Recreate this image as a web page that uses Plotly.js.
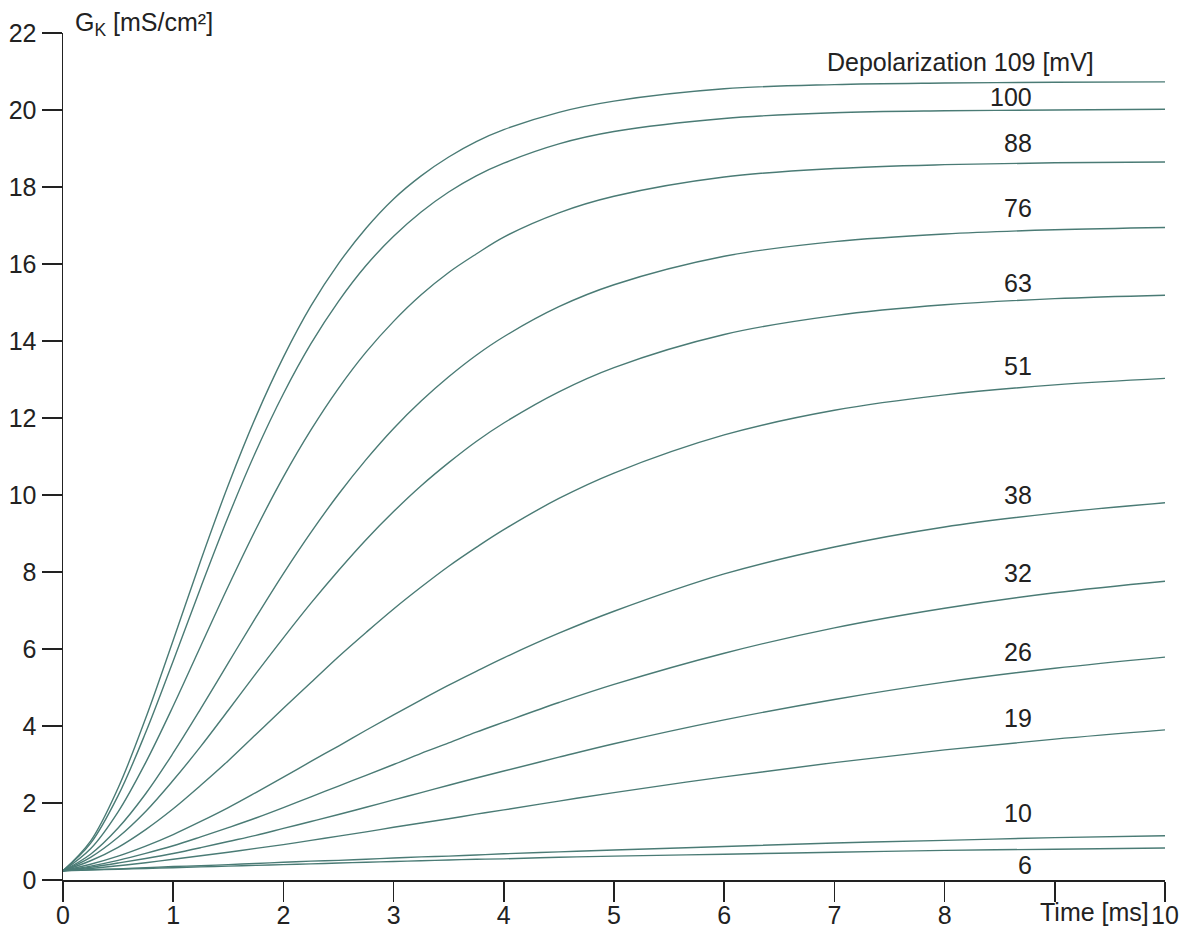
<!DOCTYPE html>
<html>
<head>
<meta charset="utf-8">
<script src="https://cdn.plot.ly/plotly-3.0.1.min.js"></script>
<style>
  html, body { margin: 0; padding: 0; background: #ffffff; }
  #chart { width: 1192px; height: 932px; }
</style>
</head>
<body>
<div id="chart"></div>
<script>
// Time after the voltage step, ms
const timeMs = [0, 0.25, 0.5, 0.75, 1, 1.25, 1.5, 1.75, 2, 2.25, 2.5, 2.75, 3, 3.25, 3.5, 3.75, 4, 4.5, 5, 6, 7, 8, 9, 10];

// Depolarization of each step, mV
const depolarization = [109, 100, 88, 76, 63, 51, 38, 32, 26, 19, 10, 6];

// Potassium conductance G_K (mS/cm²) for each depolarization
const gK109 = [0.24, 1.01, 2.39, 4.20, 6.23, 8.30, 10.26, 12.03, 13.58, 14.91, 16.01, 16.93, 17.69, 18.29, 18.78, 19.18, 19.49, 19.94, 20.23, 20.55, 20.66, 20.70, 20.72, 20.73];
const gK100 = [0.24, 0.95, 2.19, 3.83, 5.69, 7.60, 9.44, 11.13, 12.63, 13.93, 15.03, 15.96, 16.72, 17.35, 17.87, 18.29, 18.62, 19.12, 19.44, 19.78, 19.93, 19.98, 20.00, 20.02];
const gK88  = [0.24, 0.81, 1.77, 3.05, 4.52, 6.08, 7.63, 9.11, 10.47, 11.69, 12.77, 13.71, 14.51, 15.20, 15.78, 16.26, 16.70, 17.33, 17.76, 18.26, 18.48, 18.58, 18.63, 18.65];
const gK76  = [0.24, 0.67, 1.35, 2.24, 3.30, 4.45, 5.64, 6.82, 7.96, 9.03, 10.02, 10.92, 11.73, 12.44, 13.07, 13.63, 14.11, 14.89, 15.46, 16.20, 16.58, 16.78, 16.89, 16.95];
const gK63  = [0.24, 0.59, 1.11, 1.78, 2.59, 3.47, 4.41, 5.36, 6.29, 7.19, 8.04, 8.84, 9.57, 10.24, 10.84, 11.39, 11.87, 12.68, 13.31, 14.17, 14.66, 14.94, 15.10, 15.19];
const gK51  = [0.24, 0.50, 0.85, 1.31, 1.85, 2.46, 3.10, 3.78, 4.46, 5.13, 5.80, 6.43, 7.04, 7.61, 8.15, 8.64, 9.10, 9.91, 10.57, 11.56, 12.20, 12.60, 12.86, 13.03];
const gK38  = [0.24, 0.41, 0.62, 0.88, 1.18, 1.52, 1.88, 2.27, 2.67, 3.08, 3.48, 3.89, 4.29, 4.68, 5.06, 5.42, 5.77, 6.41, 6.98, 7.95, 8.65, 9.17, 9.53, 9.80];
const gK32  = [0.24, 0.36, 0.51, 0.69, 0.89, 1.12, 1.36, 1.61, 1.88, 2.16, 2.44, 2.72, 3.00, 3.29, 3.56, 3.84, 4.10, 4.61, 5.08, 5.89, 6.55, 7.06, 7.46, 7.76];
const gK26  = [0.24, 0.33, 0.44, 0.56, 0.69, 0.84, 1.00, 1.16, 1.34, 1.52, 1.70, 1.89, 2.08, 2.27, 2.46, 2.65, 2.83, 3.19, 3.54, 4.16, 4.69, 5.14, 5.50, 5.79];
const gK19  = [0.24, 0.30, 0.37, 0.45, 0.54, 0.63, 0.72, 0.82, 0.92, 1.03, 1.14, 1.25, 1.37, 1.48, 1.59, 1.71, 1.82, 2.05, 2.27, 2.68, 3.05, 3.38, 3.66, 3.90];
const gK10  = [0.24, 0.27, 0.29, 0.32, 0.35, 0.37, 0.40, 0.43, 0.46, 0.49, 0.51, 0.54, 0.57, 0.60, 0.62, 0.65, 0.68, 0.73, 0.78, 0.87, 0.96, 1.03, 1.10, 1.15];
const gK6   = [0.24, 0.26, 0.28, 0.30, 0.32, 0.34, 0.36, 0.38, 0.40, 0.42, 0.44, 0.46, 0.48, 0.50, 0.52, 0.54, 0.55, 0.59, 0.62, 0.67, 0.72, 0.77, 0.80, 0.83];

const seriesList = [gK109, gK100, gK88, gK76, gK63, gK51, gK38, gK32, gK26, gK19, gK10, gK6];

// Axis tick values and their labels
const xTickVals = [0, 1, 2, 3, 4, 5, 6, 7, 8, 9, 10];
const xTickText = ['0', '1', '2', '3', '4', '5', '6', '7', '8', ' ', '10'];
const yTickVals = [0, 2, 4, 6, 8, 10, 12, 14, 16, 18, 20, 22];

const FONT = '"Liberation Sans", Arial, sans-serif';
const INK = '#222222';
const LINE = '#4a7b75';

const traces = seriesList.map((vals, i) => ({
  type: 'scatter',
  mode: 'lines',
  x: timeMs,
  y: vals,
  name: depolarization[i] + ' mV',
  line: { color: LINE, width: 1.4, shape: 'spline', smoothing: 1 },
  hoverinfo: 'x+y+name'
}));

// Curve labels sit just above the right-hand end of each curve (the 6 mV one below it)
const labelShift = [20, 13, 20, 22, 16, 19, 18, 20, 16, 21, 25, -16];
const annotations = seriesList.map((vals, i) => ({
  xref: 'x', yref: 'y',
  x: i === 0 ? 9.37 : 8.81,
  y: vals[timeMs.indexOf(9)],
  xanchor: 'right', yanchor: 'middle',
  yshift: labelShift[i],
  text: i === 0 ? 'Depolarization ' + depolarization[i] + ' [mV]' : String(depolarization[i]),
  showarrow: false,
  font: { family: FONT, size: 25, color: INK }
}));

// Y axis caption at the top of the axis
annotations.push({
  xref: 'x', yref: 'y', x: 0, y: 22,
  xanchor: 'left', yanchor: 'middle',
  xshift: 10, yshift: 9,
  text: 'G<sub>K</sub> [mS/cm²]',
  showarrow: false,
  font: { family: FONT, size: 25, color: INK }
});

// X axis caption in the slot of the 9 ms tick label
annotations.push({
  xref: 'x', yref: 'paper', x: 10, y: 0,
  xanchor: 'right', yanchor: 'top',
  xshift: -14, yshift: -16,
  text: 'Time [ms]',
  showarrow: false,
  font: { family: FONT, size: 25, color: INK }
});

const layout = {
  width: 1192,
  height: 932,
  margin: { l: 63, r: 27, t: 33, b: 52, pad: 0 },
  paper_bgcolor: '#ffffff',
  plot_bgcolor: '#ffffff',
  showlegend: false,
  font: { family: FONT, size: 25, color: INK },
  xaxis: {
    range: [0, 10],
    tickmode: 'array',
    tickvals: xTickVals,
    ticktext: xTickText,
    ticks: 'outside', ticklen: 20, tickwidth: 1.5, tickcolor: INK,
    ticklabelstandoff: -8,
    showline: true, linecolor: INK, linewidth: 1.5,
    showgrid: false, zeroline: false,
    tickfont: { family: FONT, size: 25, color: INK },
    fixedrange: true
  },
  yaxis: {
    range: [0, 22],
    tickmode: 'array',
    tickvals: yTickVals,
    ticks: 'outside', ticklen: 20, tickwidth: 1.5, tickcolor: INK,
    showline: true, linecolor: INK, linewidth: 1.5,
    showgrid: false, zeroline: false,
    tickfont: { family: FONT, size: 25, color: INK },
    fixedrange: true
  },
  annotations: annotations
};

Plotly.newPlot('chart', traces, layout, { displayModeBar: false, staticPlot: true });
</script>
</body>
</html>
